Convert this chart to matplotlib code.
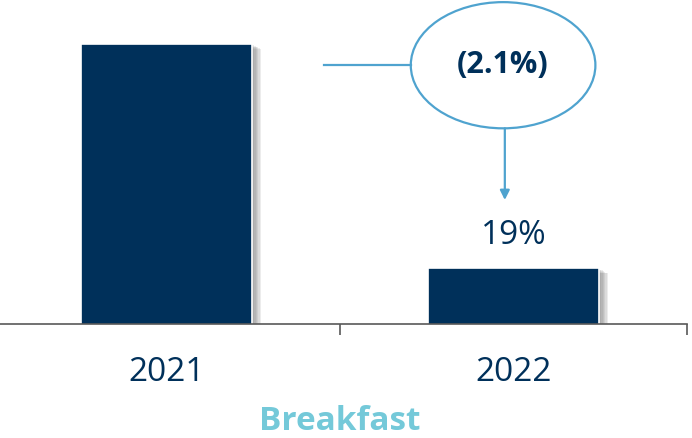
import matplotlib.pyplot as plt
import matplotlib.patheffects as pe
from matplotlib.patches import Ellipse

# data
years = ['2021', '2022']
share = [21.1, 19.0]          # % of occasions (2021 value not labelled in source)
labels = ['', '19%']
change = '(2.1%)'
category = 'Breakfast'

navy = '#00305A'
blue = '#4FA3CF'
teal = '#74C9D9'

plt.rcParams['font.family'] = ['Open Sans', 'DejaVu Sans']

fig = plt.figure(figsize=(6.92, 4.38), dpi=100)
# axis runs slightly past the left edge, like the source slide
ax = fig.add_axes([-7 / 692, 114 / 438, 694 / 692, 324 / 438])

x = range(len(years))
bars = ax.bar(x, share, width=0.49, color=navy, edgecolor='white', linewidth=1.2)
# soft drop shadow, built from a few faint offset copies
shadow = [pe.SimplePatchShadow(offset=(k, -k / 2), shadow_rgbFace='#707070', alpha=0.13)
          for k in range(7, 0, -1)]
for b in bars:
    b.set_path_effects(shadow + [pe.Normal()])

ax.set_xlim(-0.5, 1.5)
ax.set_ylim(18.48, 21.51)

# value label on 2022 bar
for i, lab in enumerate(labels):
    if lab:
        ax.annotate(lab, (i, share[i]), xytext=(0, 24), textcoords='offset points',
                    ha='center', va='center', fontsize=24, color=navy)

# callout: line from 2021 bar, ellipse with change, arrow down to 2022
ey = 20.90
ax.plot([0.454, 0.705], [ey, ey], color=blue, lw=1.6, clip_on=False)
ell = Ellipse((0.97, ey), 0.532, 1.18, facecolor='white', edgecolor=blue, lw=1.6, clip_on=False)
ax.add_patch(ell)
ax.text(0.97, ey, change, ha='center', va='center', fontsize=22, fontweight='bold', color=navy)
ax.annotate('', xy=(0.975, 19.64), xytext=(0.975, ey - 0.59),
            arrowprops=dict(arrowstyle='-|>', color=blue, lw=1.6, mutation_scale=14,
                            shrinkA=0, shrinkB=0))

# axes styling
for s in ['top', 'right', 'left']:
    ax.spines[s].set_visible(False)
ax.spines['bottom'].set_color('#595959')
ax.spines['bottom'].set_linewidth(1.2)
ax.set_yticks([])
ax.set_xticks(list(x))
ax.set_xticklabels(years, fontsize=24, color=navy)
ax.tick_params(axis='x', which='major', length=0, pad=23)
ax.set_xticks([-0.5, 0.5, 1.5], minor=True)
ax.tick_params(axis='x', which='minor', length=8, width=1.2, color='#595959')

fig.text(340 / 692, 1 - 421 / 438, category, ha='center', va='center',
         fontsize=24, fontweight='bold', color=teal)

fig.savefig('out.png', dpi=100)
